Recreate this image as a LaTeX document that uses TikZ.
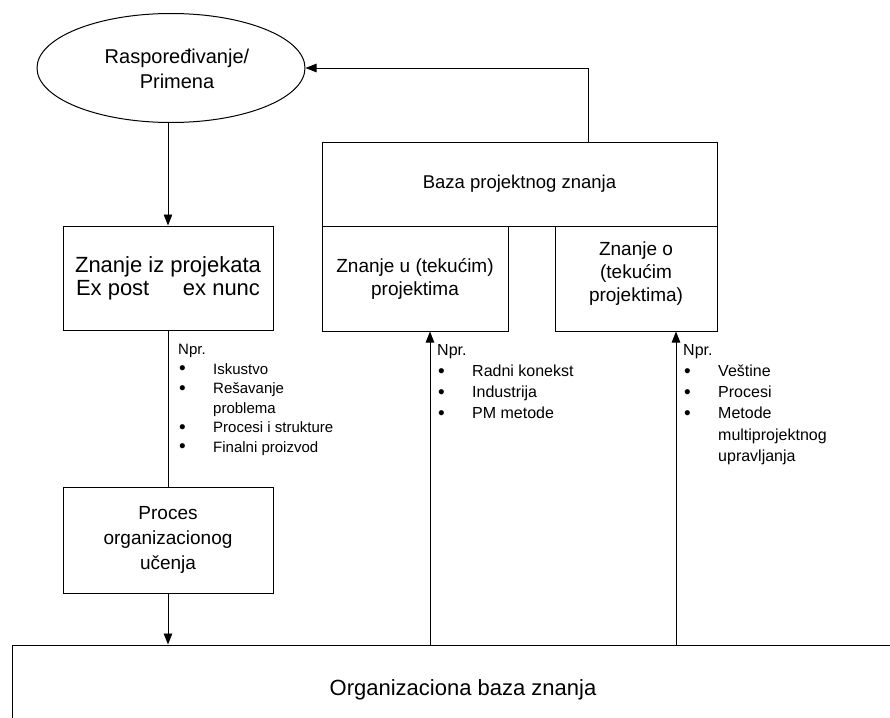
\documentclass[tikz,border=0pt]{standalone}
\usepackage{fontspec}
\setmainfont{Liberation Sans}
\usetikzlibrary{arrows.meta,shapes.geometric,calc}

% bullet and hanging indent for the example lists
\newcommand\lbul{\makebox[35pt][l]{\hspace{1pt}\raisebox{-0.6pt}{\fontsize{19}{19}\selectfont\textbullet}}}
\newcommand\lind{\makebox[35pt]{}}

\begin{document}
\begin{tikzpicture}[x=1pt,y=-1pt,
  box/.style={draw, line width=1pt, align=center, inner sep=0pt,
    font=\fontsize{19}{23}\selectfont},
  conn/.style={line width=0.9pt},
  arr/.style={conn, -{Triangle[length=11pt,width=8.5pt]}},
  lst/.style={anchor=north west, align=left, inner sep=0pt,
    font=\fontsize{15}{19.5}\selectfont},
  lstwide/.style={lst, font=\fontsize{16}{21.2}\selectfont}]

\useasboundingbox (0,0) rectangle (890,717);
\clip (0,0) rectangle (890,717);

% main shapes
\node[ellipse, draw, line width=1pt, minimum width=268pt, minimum height=109pt,
  inner sep=0pt] (dep) at (171,68) {};
\node[align=center, inner sep=0pt, font=\fontsize{20}{25}\selectfont]
  (deptext) at (177,69) {Raspoređivanje/\\Primena};

\node[box, minimum width=210pt, minimum height=104pt,
  font=\fontsize{22}{23}\selectfont] (proj) at (168,278)
  {Znanje iz projekata\\\hbox to 184pt{Ex post\hfil ex nunc}};

\node[box, minimum width=395pt, minimum height=84pt,
  font=\fontsize{18.5}{23}\selectfont] (base) at (519.5,184)
  {Baza projektnog znanja};
\node[box, minimum width=186pt, minimum height=105pt] (inproj) at (415,278.5)
  {Znanje u (tekućim)\\projektima};
\node[box, minimum width=162pt, minimum height=105pt] (aboutproj) at (636,278.5) {};
\node[align=center, inner sep=0pt, font=\fontsize{19}{23}\selectfont]
  (abouttext) at (636,273.5) {Znanje o\\(tekućim\\projektima)};

\node[box, minimum width=210pt, minimum height=106pt,
  font=\fontsize{19}{25}\selectfont] (learn) at (168,540)
  {Proces\\organizacionog\\učenja};

\node[box, minimum width=902pt, minimum height=90pt,
  font=\fontsize{22}{25}\selectfont] (org) at (463,690)
  {Organizaciona baza znanja};

% example lists
\node[lst] (ex1) at (178,344)
  {Npr.\\\lbul Iskustvo\\\lbul Rešavanje\\\lind problema\\\lbul Procesi i strukture\\\lbul Finalni proizvod};
\node[lstwide] (ex2) at (437,344)
  {Npr.\\\lbul Radni konekst\\\lbul Industrija\\\lbul PM metode};
\node[lstwide] (ex3) at (683,344)
  {Npr.\\\lbul Veštine\\\lbul Procesi\\\lbul Metode\\\lind multiprojektnog\\\lind upravljanja};

% connectors
\coordinate (upx) at (588,0);
\coordinate (ax1) at (430,0);
\coordinate (ax2) at (676,0);

\draw[arr] (base.north -| upx) |- (dep.east);
\draw[arr] (dep.south -| proj.north) -- (proj.north);
\draw[conn] (proj.south) -- (learn.north);
\draw[arr] (learn.south) -- (learn.south |- org.north);
\draw[arr] (org.north -| ax1) -- (inproj.south -| ax1);
\draw[arr] (org.north -| ax2) -- (aboutproj.south -| ax2);
\end{tikzpicture}
\end{document}
